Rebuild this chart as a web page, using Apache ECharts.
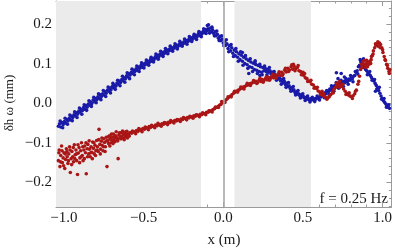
<!DOCTYPE html>
<html><head><meta charset="utf-8">
<script src="https://cdn.jsdelivr.net/npm/echarts@6/dist/echarts.min.js"></script>
<style>html,body{margin:0;padding:0;background:#fff}#c{width:395px;height:250px}</style>
</head><body><div id="c"></div>
<script>
const FONT = '"Liberation Serif","Times New Roman",serif';
const xRange = [-1.05, 1.055];
const yRange = [-0.262, 0.258];
const subRegion = [-1.05, -0.14];
const superRegion = [0.07, 0.55];
const xLabel = 'x (m)';
const yLabel = 'δh ω (mm)';
const texts = ['sub', 'super', 'f = 0.25 Hz'];

const blueData = [
[-1.035,-0.058],[-1.028,-0.052],[-1.02,-0.060],[-1.012,-0.049],[-1.005,-0.054],[-0.997,-0.046],[-0.99,-0.050],[-0.982,-0.041],
[-0.975,-0.045],[-0.967,-0.038],[-0.96,-0.042],[-0.952,-0.033],[-0.945,-0.036],[-0.937,-0.029],[-0.93,-0.032],[-0.922,-0.024],
[-0.915,-0.028],[-0.907,-0.020],[-0.9,-0.023],[-0.892,-0.016],[-0.885,-0.019],[-0.877,-0.011],[-0.87,-0.015],[-0.862,-0.006],
[-0.855,-0.010],[-0.847,-0.002],[-0.84,-0.005],[-0.832,0.003],[-0.825,-0.001],[-0.817,0.008],[-0.81,0.004],[-0.802,0.012],
[-0.795,0.008],[-0.787,0.016],[-0.78,0.012],[-0.772,0.021],[-0.765,0.017],[-0.757,0.024],[-0.75,0.021],[-0.742,0.029],
[-0.735,0.025],[-0.727,0.033],[-0.72,0.030],[-0.712,0.038],[-0.705,0.034],[-0.697,0.042],[-0.69,0.039],[-0.682,0.046],
[-0.675,0.043],[-0.667,0.051],[-0.66,0.048],[-0.652,0.056],[-0.645,0.052],[-0.637,0.060],[-0.63,0.057],[-0.622,0.064],
[-0.615,0.061],[-0.607,0.069],[-0.6,0.066],[-0.592,0.074],[-0.585,0.071],[-0.577,0.078],[-0.57,0.075],[-0.562,0.083],
[-0.555,0.080],[-0.547,0.087],[-0.54,0.083],[-0.532,0.091],[-0.525,0.088],[-0.517,0.095],[-0.51,0.091],[-0.502,0.099],
[-0.495,0.096],[-0.487,0.102],[-0.48,0.099],[-0.472,0.106],[-0.465,0.103],[-0.457,0.110],[-0.45,0.106],[-0.442,0.113],
[-0.435,0.110],[-0.427,0.117],[-0.42,0.114],[-0.412,0.121],[-0.405,0.117],[-0.397,0.124],[-0.39,0.121],[-0.382,0.128],
[-0.375,0.124],[-0.367,0.131],[-0.36,0.127],[-0.352,0.134],[-0.345,0.131],[-0.337,0.137],[-0.33,0.134],[-0.322,0.140],
[-0.315,0.137],[-0.307,0.143],[-0.3,0.140],[-0.292,0.146],[-0.285,0.143],[-0.277,0.149],[-0.27,0.146],[-0.262,0.152],
[-0.255,0.149],[-0.247,0.155],[-0.24,0.152],[-0.232,0.158],[-0.225,0.155],[-0.217,0.161],[-0.21,0.158],[-0.202,0.165],
[-0.195,0.161],[-0.187,0.168],[-0.18,0.165],[-0.172,0.171],[-0.165,0.168],[-0.157,0.175],[-0.15,0.171],[-0.142,0.178],
[-0.135,0.175],[-0.127,0.181],[-0.12,0.178],[-0.112,0.186],[-0.105,0.182],[-0.1,0.196],[-0.097,0.188],[-0.09,0.184],
[-0.082,0.190],[-0.075,0.180],[-0.067,0.185],[-0.06,0.176],[-0.052,0.180],[-0.045,0.170],[-0.037,0.174],[-0.03,0.164],
[-0.022,0.168],[-0.015,0.158],[-0.007,0.162],[0.0,0.152],[0.008,0.156],[0.015,0.146],[0.023,0.150],[0.03,0.138],
[0.038,0.145],[0.045,0.132],[0.053,0.140],[0.06,0.126],[0.068,0.134],[0.075,0.120],[0.083,0.130],[0.09,0.116],
[0.098,0.125],[0.105,0.110],[0.113,0.121],[0.12,0.106],[0.128,0.116],[0.135,0.100],[0.143,0.112],[0.15,0.097],
[0.158,0.108],[0.165,0.092],[0.173,0.104],[0.18,0.090],[0.188,0.101],[0.195,0.085],[0.203,0.098],[0.21,0.083],
[0.218,0.095],[0.225,0.080],[0.233,0.092],[0.24,0.078],[0.248,0.090],[0.255,0.082],[0.263,0.088],[0.27,0.080],
[0.278,0.085],[0.285,0.078],[0.293,0.082],[0.3,0.074],[0.308,0.078],[0.315,0.070],[0.323,0.073],[0.33,0.065],
[0.338,0.069],[0.345,0.061],[0.353,0.064],[0.36,0.056],[0.368,0.060],[0.375,0.052],[0.383,0.055],[0.39,0.047],
[0.398,0.050],[0.405,0.042],[0.413,0.044],[0.42,0.037],[0.428,0.039],[0.435,0.032],[0.443,0.034],[0.45,0.027],
[0.458,0.029],[0.465,0.023],[0.473,0.024],[0.48,0.019],[0.488,0.021],[0.495,0.016],[0.503,0.017],[0.51,0.013],
[0.518,0.014],[0.525,0.010],[0.533,0.012],[0.54,0.008],[0.548,0.011],[0.555,0.008],[0.563,0.010],[0.57,0.009],
[0.578,0.012],[0.585,0.011],[0.593,0.014],[0.6,0.013],[0.608,0.017],[0.615,0.016],[0.623,0.021],[0.63,0.020],
[0.638,0.026],[0.645,0.024],[0.653,0.031],[0.66,0.029],[0.668,0.036],[0.675,0.033],[0.683,0.040],[0.69,0.038],
[0.698,0.044],[0.705,0.041],[0.713,0.047],[0.72,0.044],[0.728,0.050],[0.735,0.047],[0.743,0.052],[0.75,0.049],
[0.758,0.055],[0.765,0.052],[0.773,0.058],[0.78,0.055],[0.788,0.061],[0.795,0.058],[0.803,0.064],[0.81,0.062],
[0.818,0.068],[0.825,0.070],[0.833,0.078],[0.84,0.082],[0.848,0.092],[0.855,0.096],[0.863,0.104],[0.87,0.100],
[0.878,0.095],[0.885,0.090],[0.893,0.085],[0.9,0.082],[0.908,0.077],[0.915,0.073],[0.923,0.070],[0.93,0.065],
[0.938,0.060],[0.945,0.056],[0.953,0.050],[0.96,0.045],[0.968,0.038],[0.975,0.032],[0.983,0.025],[0.99,0.018],
[0.998,0.012],[1.005,0.006],[1.013,0.002],[1.02,-0.002],[1.028,-0.006],[1.035,-0.010],[1.043,-0.013],
[0.72,0.062],[0.76,0.066],[0.955,0.030],[0.16,0.075],[0.23,0.070],[0.88,0.112],[0.71,0.077],[0.74,0.075],[0.12,0.128],[0.2,0.107]
];

const blueExtra = [
[-1.024,-0.045],[-1.008,-0.062],[-0.993,-0.038],[-0.978,-0.053],[-0.963,-0.030],[-0.948,-0.044],[-0.933,-0.022],[-0.918,-0.036],
[-0.903,-0.012],[-0.888,-0.028],[-0.873,-0.004],[-0.858,-0.018],[-0.843,0.006],[-0.828,-0.008],[-0.813,0.015],[-0.798,0.001],
[-0.783,0.024],[-0.768,0.009],[-0.753,0.032],[-0.738,0.017],[-0.723,0.041],[-0.708,0.026],[-0.693,0.050],[-0.678,0.035],
[-0.663,0.058],[-0.648,0.044],[-0.633,0.068],[-0.618,0.053],[-0.603,0.077],[-0.588,0.062],[-0.573,0.086],[-0.558,0.072],
[-0.543,0.094],[-0.528,0.080],[-0.513,0.102],[-0.498,0.089],[-0.483,0.109],[-0.468,0.096],[-0.453,0.116],[-0.438,0.104],
[-0.423,0.124],[-0.408,0.111],[-0.393,0.131],[-0.378,0.118],[-0.363,0.138],[-0.348,0.125],[-0.333,0.144],[-0.318,0.131],
[-0.303,0.150],[-0.288,0.137],[-0.273,0.156],[-0.258,0.144],[-0.243,0.162],[-0.228,0.149],[-0.213,0.168],[-0.198,0.156],
[-0.183,0.174],[-0.168,0.161],[-0.153,0.181],[-0.138,0.168],[-0.123,0.188],[-0.108,0.176],[-0.093,0.198],[-0.086,0.177],
[-0.071,0.192],[-0.056,0.170],[-0.041,0.182],[-0.026,0.158],[-0.011,0.170],[0.004,0.145],[0.019,0.160],[0.034,0.130],
[0.049,0.148],[0.064,0.118],[0.079,0.138],[0.094,0.106],[0.109,0.130],[0.124,0.096],[0.139,0.120],[0.154,0.088],
[0.169,0.112],[0.184,0.080],[0.199,0.104],[0.214,0.075],[0.229,0.098],[0.244,0.072],[0.259,0.094],[0.274,0.072],
[0.289,0.090],[0.304,0.066],[0.319,0.080],[0.334,0.058],[0.349,0.072],[0.364,0.048],[0.379,0.062],[0.394,0.040],
[0.409,0.052],[0.424,0.030],[0.439,0.042],[0.454,0.021],[0.469,0.032],[0.484,0.013],[0.499,0.024],[0.514,0.007],
[0.529,0.018],[0.544,0.003],[0.559,0.015],[0.574,0.004],[0.589,0.018],[0.604,0.008],[0.619,0.026],[0.634,0.014],
[0.649,0.032],[0.664,0.022],[0.679,0.044],[0.694,0.030],[0.709,0.052],[0.724,0.038],[0.739,0.058],[0.754,0.042],
[0.769,0.062],[0.784,0.048],[0.799,0.070],[0.814,0.054],[0.829,0.080],[0.844,0.074],[0.859,0.110],[0.866,0.090],
[0.874,0.108],[0.889,0.098],[0.904,0.072],[0.919,0.080],[0.934,0.058],[0.949,0.060],[0.964,0.036],[0.979,0.040],
[0.994,0.010],[1.009,0.012],[1.024,-0.010],[1.039,-0.004]
];

const redData = [
[-1.035,-0.145],[-1.03,-0.118],[-1.025,-0.160],[-1.02,-0.132],[-1.015,-0.108],[-1.01,-0.150],[-1.005,-0.138],[-1.0,-0.125],
[-0.995,-0.165],[-0.99,-0.142],[-0.985,-0.115],[-0.98,-0.135],[-0.975,-0.152],[-0.97,-0.128],[-0.965,-0.110],[-0.96,-0.175],
[-0.955,-0.140],[-0.95,-0.122],[-0.945,-0.135],[-0.94,-0.148],[-0.935,-0.105],[-0.93,-0.130],[-0.925,-0.118],[-0.92,-0.145],
[-0.915,-0.180],[-0.91,-0.126],[-0.905,-0.112],[-0.9,-0.138],[-0.895,-0.120],[-0.89,-0.100],[-0.885,-0.132],[-0.88,-0.145],
[-0.875,-0.118],[-0.87,-0.108],[-0.865,-0.125],[-0.86,-0.178],[-0.855,-0.115],[-0.85,-0.104],[-0.845,-0.128],[-0.84,-0.116],
[-0.835,-0.135],[-0.83,-0.110],[-0.825,-0.124],[-0.82,-0.098],[-0.815,-0.114],[-0.81,-0.128],[-0.805,-0.106],[-0.8,-0.120],
[-0.795,-0.094],[-0.79,-0.110],[-0.785,-0.122],[-0.78,-0.066],[-0.775,-0.104],[-0.77,-0.116],[-0.765,-0.096],[-0.76,-0.106],
[-0.755,-0.120],[-0.75,-0.090],[-0.745,-0.099],[-0.74,-0.110],[-0.735,-0.086],[-0.73,-0.160],[-0.725,-0.095],[-0.72,-0.102],
[-0.715,-0.082],[-0.71,-0.091],[-0.705,-0.100],[-0.7,-0.086],[-0.695,-0.094],[-0.69,-0.078],[-0.685,-0.090],[-0.68,-0.097],
[-0.675,-0.082],[-0.67,-0.087],[-0.665,-0.092],[-0.66,-0.140],[-0.655,-0.080],[-0.65,-0.088],[-0.645,-0.084],[-0.64,-0.074],
[-0.635,-0.087],[-0.63,-0.080],[-0.625,-0.089],[-0.62,-0.076],[-0.615,-0.084],[-0.61,-0.079],[-0.605,-0.071],[-0.6,-0.081],
[-0.595,-0.078],[-0.585,-0.074],[-0.575,-0.076],[-0.565,-0.072],[-0.555,-0.073],[-0.545,-0.069],[-0.535,-0.071],[-0.525,-0.067],
[-0.515,-0.068],[-0.505,-0.064],[-0.495,-0.066],[-0.485,-0.062],[-0.475,-0.063],[-0.465,-0.059],[-0.455,-0.061],[-0.445,-0.058],
[-0.435,-0.059],[-0.425,-0.055],[-0.415,-0.057],[-0.405,-0.054],[-0.395,-0.055],[-0.385,-0.052],[-0.375,-0.053],[-0.365,-0.050],
[-0.355,-0.051],[-0.345,-0.048],[-0.335,-0.049],[-0.325,-0.046],[-0.315,-0.047],[-0.305,-0.044],[-0.295,-0.045],[-0.285,-0.042],
[-0.275,-0.043],[-0.265,-0.040],[-0.255,-0.041],[-0.245,-0.038],[-0.235,-0.039],[-0.225,-0.036],[-0.215,-0.037],[-0.205,-0.034],
[-0.195,-0.035],[-0.185,-0.032],[-0.175,-0.033],[-0.165,-0.030],[-0.155,-0.031],[-0.145,-0.028],[-0.135,-0.029],[-0.125,-0.026],
[-0.115,-0.026],[-0.105,-0.023],[-0.095,-0.023],[-0.085,-0.020],[-0.075,-0.019],[-0.065,-0.016],[-0.055,-0.014],[-0.045,-0.011],
[-0.035,-0.009],[-0.025,-0.005],[-0.015,-0.003],[-0.005,0.001],[0.005,0.004],[0.015,0.008],[0.025,0.011],[0.035,0.015],
[0.045,0.018],[0.055,0.022],[0.065,0.025],[0.075,0.028],[0.085,0.031],[0.095,0.033],[0.105,0.036],[0.115,0.038],
[0.125,0.041],[0.135,0.042],[0.145,0.045],[0.155,0.046],[0.165,0.049],[0.175,0.050],[0.185,0.052],[0.195,0.053],
[0.205,0.055],[0.215,0.052],[0.225,0.058],[0.235,0.055],[0.245,0.060],[0.255,0.057],[0.265,0.062],[0.275,0.059],
[0.285,0.065],[0.295,0.062],[0.305,0.068],[0.315,0.064],[0.325,0.071],[0.335,0.067],[0.345,0.074],[0.355,0.070],
[0.365,0.078],[0.375,0.074],[0.385,0.083],[0.395,0.079],[0.405,0.088],[0.415,0.084],[0.425,0.092],[0.435,0.086],
[0.445,0.093],[0.455,0.087],[0.465,0.090],[0.475,0.082],[0.485,0.080],[0.495,0.074],[0.505,0.070],[0.515,0.064],
[0.525,0.062],[0.535,0.056],[0.545,0.054],[0.555,0.048],[0.565,0.046],[0.575,0.040],[0.585,0.037],[0.595,0.031],
[0.605,0.028],[0.615,0.024],[0.625,0.020],[0.635,0.017],[0.645,0.014],[0.655,0.013],[0.665,0.016],[0.675,0.022],
[0.685,0.028],[0.695,0.035],[0.705,0.040],[0.715,0.044],[0.725,0.047],[0.735,0.046],[0.745,0.042],[0.755,0.036],
[0.765,0.030],[0.775,0.025],[0.785,0.021],[0.795,0.018],[0.805,0.017],[0.815,0.019],[0.825,0.024],[0.835,0.033],
[0.845,0.048],[0.855,0.068],[0.862,0.085],[0.868,0.098],[0.875,0.104],[0.882,0.098],[0.89,0.094],[0.898,0.100],
[0.905,0.092],[0.912,0.098],[0.92,0.106],[0.928,0.110],[0.935,0.120],[0.942,0.132],[0.95,0.140],[0.958,0.146],
[0.965,0.150],[0.972,0.144],[0.98,0.152],[0.987,0.148],[0.995,0.140],[1.002,0.128],[1.01,0.118],[1.018,0.108],
[1.025,0.098],[1.032,0.088],[1.04,0.080],[1.045,0.085],
[0.44,0.098],[0.5,0.078],[0.62,0.030],[0.73,0.055],[0.9,0.108],[0.93,0.118]
];

const redExtra = [
[-1.032,-0.125],[-1.022,-0.148],[-1.012,-0.120],[-1.002,-0.158],[-0.992,-0.128],[-0.982,-0.122],[-0.972,-0.145],[-0.962,-0.118],
[-0.952,-0.155],[-0.942,-0.112],[-0.932,-0.140],[-0.922,-0.128],[-0.912,-0.105],[-0.902,-0.150],[-0.892,-0.135],[-0.882,-0.110],
[-0.872,-0.140],[-0.862,-0.100],[-0.852,-0.135],[-0.842,-0.095],[-0.832,-0.125],[-0.822,-0.140],[-0.812,-0.100],[-0.802,-0.132],
[-0.792,-0.118],[-0.782,-0.092],[-0.772,-0.128],[-0.762,-0.088],[-0.752,-0.110],[-0.742,-0.122],[-0.732,-0.095],[-0.722,-0.085],
[-0.712,-0.108],[-0.702,-0.078],[-0.692,-0.102],[-0.682,-0.084],[-0.672,-0.072],[-0.662,-0.095],[-0.652,-0.075],[-0.642,-0.090],
[-0.632,-0.070],[-0.622,-0.092],[-0.612,-0.072],[-0.602,-0.088],
[-0.59,-0.083],[-0.57,-0.070],[-0.55,-0.077],[-0.53,-0.064],[-0.51,-0.072],[-0.49,-0.060],[-0.47,-0.067],[-0.45,-0.056],
[-0.43,-0.062],[-0.41,-0.051],[-0.39,-0.058],[-0.37,-0.049],[-0.35,-0.054],[-0.33,-0.044],[-0.31,-0.050],[-0.29,-0.041],
[-0.27,-0.046],[-0.25,-0.036],[-0.23,-0.042],[-0.21,-0.033],[-0.19,-0.038],[-0.17,-0.029],[-0.15,-0.034],[-0.13,-0.024],
[-0.11,-0.029],[-0.09,-0.019],[-0.07,-0.022],[-0.05,-0.010],[-0.03,-0.011],[-0.01,0.004],[0.01,0.002],[0.03,0.016],
[0.05,0.016],[0.07,0.030],[0.09,0.028],[0.11,0.041],[0.13,0.036],[0.15,0.050],[0.17,0.045],[0.19,0.057],
[0.21,0.050],[0.23,0.063],[0.25,0.053],[0.27,0.066],[0.29,0.058],[0.31,0.073],[0.33,0.063],[0.35,0.079],
[0.37,0.070],[0.39,0.088],[0.41,0.080],[0.43,0.097],[0.45,0.082],[0.47,0.095],[0.49,0.072],[0.51,0.075],
[0.53,0.055],[0.55,0.058],[0.57,0.038],[0.59,0.040],[0.61,0.022],[0.63,0.024],[0.65,0.010],[0.67,0.020],
[0.69,0.026],[0.71,0.050],[0.73,0.040],[0.75,0.048],[0.77,0.022],[0.79,0.026],[0.81,0.012],[0.83,0.030],
[0.85,0.055],[0.87,0.090],[0.885,0.108],[0.895,0.090],[0.91,0.104],[0.925,0.100],[0.94,0.124],[0.955,0.150],
[0.97,0.155],[0.985,0.140],[1.0,0.135],[1.015,0.110],[1.03,0.095],[1.042,0.075]
];

const chart = echarts.init(document.getElementById('c'), null, {renderer: 'canvas'});
const axisLineStyle = {color: '#9a9a9a', width: 1};
const labelStyle = {fontFamily: FONT, fontSize: 15, color: '#1a1a1a'};
function xFmt(v) {
  if (Math.abs(v * 2 - Math.round(v * 2)) > 1e-6) return '';
  return v.toFixed(1).replace('-', '\u2212');
}
function yFmt(v) {
  if (Math.abs(v * 10 - Math.round(v * 10)) > 1e-6) return '';
  if (Math.abs(v) < 1e-9) return '0.0';
  return v.toFixed(1).replace('-', '\u2212');
}
function mkX(pos, show) {
  return {
    type: 'value', position: pos, min: xRange[0], max: xRange[1], splitNumber: 4,
    axisLine: {show: true, onZero: false, lineStyle: axisLineStyle},
    axisTick: {show: true, inside: true, length: 5, lineStyle: axisLineStyle},
    minorTick: {show: true, splitNumber: 5, length: 2.5, lineStyle: axisLineStyle},
    splitLine: {show: false},
    axisLabel: Object.assign({show: show, margin: 4, formatter: xFmt, showMinLabel: false, showMaxLabel: false}, labelStyle)
  };
}
function mkY(pos, show) {
  return {
    type: 'value', position: pos, min: yRange[0], max: yRange[1], splitNumber: 5,
    axisLine: {show: true, onZero: false, lineStyle: axisLineStyle},
    axisTick: {show: true, inside: true, length: 5, lineStyle: axisLineStyle},
    minorTick: {show: true, splitNumber: 5, length: 2.5, lineStyle: axisLineStyle},
    splitLine: {show: false},
    axisLabel: Object.assign({show: show, margin: 4, formatter: yFmt, showMinLabel: false, showMaxLabel: false}, labelStyle)
  };
}
chart.setOption({
  animation: false,
  backgroundColor: '#fff',
  grid: {left: 56, right: 2, top: 1, bottom: 43, containLabel: false},
  xAxis: [mkX('bottom', true), mkX('top', false)],
  yAxis: [mkY('left', true), mkY('right', false)],
  series: [
    {
      type: 'scatter', data: [], z: 1, silent: true,
      markArea: {silent: true, itemStyle: {color: '#ebebeb'},
        data: [[{xAxis: subRegion[0]}, {xAxis: subRegion[1]}], [{xAxis: superRegion[0]}, {xAxis: superRegion[1]}]]},
      markLine: {silent: true, symbol: 'none', label: {show: false},
        lineStyle: {color: '#a8a8a8', width: 1.6, type: 'solid'}, data: [{xAxis: 0}]}
    },
    {type: 'scatter', data: blueData.concat(blueExtra), symbolSize: 3.6, z: 3, itemStyle: {color: '#1a1aa8', opacity: 1}},
    {type: 'scatter', data: redData.concat(redExtra), symbolSize: 3.6, z: 3, itemStyle: {color: '#aa1515', opacity: 1}}
  ],
  graphic: [
    {type: 'text', left: 69, top: 7, style: {text: texts[0], font: '15px ' + FONT, fill: '#1a1a1a'}},
    {type: 'text', left: 240, top: 7, style: {text: texts[1], font: '15px ' + FONT, fill: '#1a1a1a'}},
    {type: 'text', right: 7, top: 192, style: {text: texts[2], font: '15px ' + FONT, fill: '#1a1a1a'}},
    {type: 'text', x: 224, y: 240, style: {text: xLabel, font: '15px ' + FONT, fill: '#1a1a1a', align: 'center', verticalAlign: 'middle'}},
    {type: 'text', x: 10, y: 103, rotation: Math.PI / 2, style: {text: yLabel, font: '13px ' + FONT, fill: '#1a1a1a', align: 'center', verticalAlign: 'middle'}}
  ]
});
</script></body></html>
